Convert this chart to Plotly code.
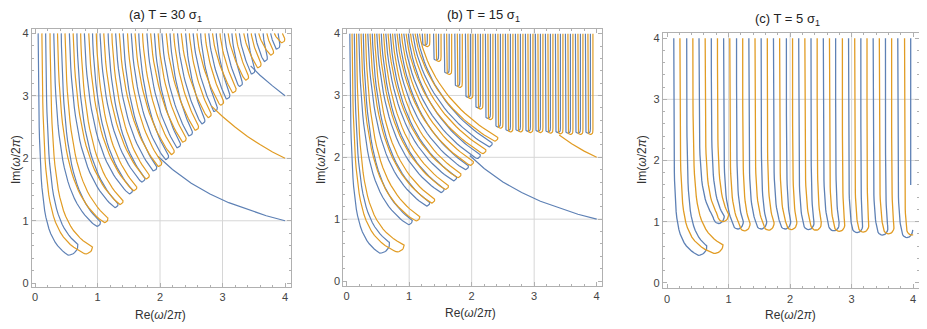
import numpy as np
import plotly.graph_objects as go

BLUE = "#5E81B5"
ORANGE = "#E19C24"
FRAME = "#b0b0b0"
GRID = "#d6d6d6"
FONT = "Liberation Sans, Arial, sans-serif"

TITLES = ["(a) T = 30 σ<sub>1</sub>", "(b) T = 15 σ<sub>1</sub>", "(c) T = 5 σ<sub>1</sub>"]

# ---------------- panel (a): hairpin trajectories ----------------
# x where each arm leaves the top edge (Im = 4), alternating blue / orange
A_TOP = [0.05, 0.11, 0.17, 0.24, 0.30, 0.36, 0.42, 0.48, 0.55, 0.61,
         0.67, 0.73, 0.79, 0.86, 0.92, 0.98, 1.04, 1.10, 1.17, 1.23,
         1.29, 1.35, 1.41, 1.48, 1.54, 1.60, 1.66, 1.72, 1.79, 1.85,
         1.91, 1.97, 2.03, 2.10, 2.16, 2.22, 2.28, 2.34, 2.41, 2.47,
         2.53, 2.59, 2.65, 2.72, 2.78, 2.84, 2.90, 2.96, 3.03, 3.09,
         3.15, 3.21, 3.27, 3.34, 3.40, 3.46, 3.52, 3.58, 3.65, 3.71,
         3.77, 3.83, 3.89, 3.96]
# tip (right-most point) and bottom of each loop
B_TIP_X = [0.69, 1.05, 1.33, 1.56, 1.76, 1.95, 2.14, 2.33, 2.52, 2.72, 2.92, 3.12, 3.32, 3.52, 3.72, 3.92]
B_TIP_Y = [0.62, 0.98, 1.27, 1.49, 1.68, 1.86, 2.04, 2.23, 2.42, 2.61, 2.81, 3.01, 3.21, 3.41, 3.61, 3.81]
B_BOT_X = [0.53, 0.98, 1.27, 1.50, 1.70, 1.89, 2.08, 2.27, 2.46, 2.66, 2.86, 3.06, 3.26, 3.46, 3.66, 3.86]
B_BOT_Y = [0.45, 0.91, 1.21, 1.43, 1.62, 1.80, 1.98, 2.17, 2.36, 2.55, 2.75, 2.95, 3.15, 3.35, 3.55, 3.75]
O_TIP_X = [0.92, 1.17, 1.41, 1.63, 1.83, 2.03, 2.23, 2.42, 2.62, 2.82, 3.02, 3.22, 3.42, 3.62, 3.82, 4.00]
O_TIP_Y = [0.58, 1.04, 1.32, 1.54, 1.73, 1.93, 2.12, 2.32, 2.51, 2.71, 2.91, 3.11, 3.31, 3.51, 3.71, 3.91]
O_BOT_X = [0.80, 1.10, 1.35, 1.57, 1.77, 1.97, 2.17, 2.36, 2.56, 2.76, 2.96, 3.16, 3.36, 3.56, 3.76, 3.94]
O_BOT_Y = [0.47, 0.97, 1.26, 1.48, 1.67, 1.87, 2.06, 2.26, 2.45, 2.65, 2.85, 3.05, 3.25, 3.45, 3.65, 3.85]

# long branches leaving the fan
A_TAIL1_X = [1.97, 2.2, 2.5, 2.8, 3.1, 3.4, 3.7, 4.0]
A_TAIL1_Y = [2.03, 1.82, 1.60, 1.43, 1.29, 1.18, 1.08, 1.0]
A_TAIL2_X = [2.82, 3.0, 3.2, 3.4, 3.6, 3.8, 4.0]
A_TAIL2_Y = [2.84, 2.67, 2.50, 2.35, 2.22, 2.10, 2.0]
A_TAIL3_X = [3.45, 3.6, 3.8, 4.0]
A_TAIL3_Y = [3.48, 3.33, 3.16, 3.0]

# ---------------- panel (b) ----------------
B_TOP = [0.05, 0.086, 0.122, 0.158, 0.194, 0.23, 0.266, 0.302, 0.338, 0.374,
         0.41, 0.446, 0.482, 0.518, 0.554, 0.59, 0.626, 0.662, 0.698, 0.734,
         0.77, 0.806, 0.842, 0.878, 0.914, 0.95, 0.986, 1.022, 1.058, 1.094,
         1.13, 1.166]
# bottoms of the narrow U turns (notch edge, then plateau)
B_U_X = [1.27, 1.45, 1.62, 1.79, 1.96, 2.12, 2.28, 2.44, 2.60, 2.76, 2.92, 3.08, 3.24, 3.40, 3.56, 3.72, 3.88]
B_U_Y = [3.81, 3.57, 3.36, 3.15, 2.97, 2.80, 2.63, 2.49, 2.43, 2.43, 2.42, 2.42, 2.41, 2.40, 2.39, 2.39, 2.39]
B_TAIL1_X = A_TAIL1_X
B_TAIL1_Y = A_TAIL1_Y
B_TAIL2_X = [3.40, 3.6, 3.8, 4.0]
B_TAIL2_Y = [2.36, 2.22, 2.10, 2.0]

# ---------------- panel (c) ----------------
C_TOP = [0.11, 0.21, 0.32, 0.42, 0.52, 0.62, 0.72, 0.82, 0.92, 1.02,
         1.13, 1.23, 1.33, 1.43, 1.53, 1.63, 1.73, 1.83, 1.94, 2.04,
         2.14, 2.24, 2.34, 2.44, 2.54, 2.64, 2.74, 2.85, 2.95, 3.05,
         3.15, 3.25, 3.35, 3.45, 3.55, 3.65, 3.75, 3.86, 3.96, 4.06, 4.16]
C_LOOP_B = dict(bot=(0.51, 0.45), tip=(0.65, 0.60))
C_LOOP_O = dict(bot=(0.76, 0.48), tip=(0.91, 0.62))
CB_U_X = [0.84, 1.15, 1.53, 1.92, 2.30, 2.71, 3.09, 3.50, 3.90]
CB_U_Y = [0.97, 0.88, 0.88, 0.88, 0.87, 0.85, 0.82, 0.78, 0.74]
CO_U_X = [0.91, 1.26, 1.65, 2.02, 2.42, 2.80, 3.19, 3.60, 3.98]
CO_U_Y = [1.00, 0.85, 0.86, 0.87, 0.86, 0.84, 0.83, 0.80, 0.78]
C_STUB_X = [3.96, 3.96]
C_STUB_Y = [4.0, 1.6]


def arm(x_top, x_end, y_end, p, n=30):
    """Arm of a trajectory from its lower end up to Im = 4 (ordered bottom -> top)."""
    u = np.linspace(0, 1, n) ** 2
    ys = y_end + (4.0 - y_end) * u
    s = np.clip((4.0 / ys - 1) / (4.0 / y_end - 1), 0, 1) ** p
    return x_top + (x_end - x_top) * s, ys


def hairpin(x_out, x_in, bot, tip, p):
    ox, oy = arm(x_out, bot[0], bot[1], p)
    phi = np.linspace(-np.pi / 2, 0, 10)
    cx = bot[0] + (tip[0] - bot[0]) * np.cos(phi)
    cy = tip[1] + (tip[1] - bot[1]) * np.sin(phi)
    ix, iy = arm(x_in, tip[0], tip[1], p)
    return (np.concatenate([ox[::-1], cx, ix]), np.concatenate([oy[::-1], cy, iy]))


def u_turn(xl, xr, xb, yb, w, h, p):
    lx, ly = arm(xl, xb - w, yb + h, p)
    t = np.linspace(0, np.pi, 15)
    bx = xb - w * np.cos(t)
    by = yb + h - h * np.sin(t)
    rx, ry = arm(xr, xb + w, yb + h, p)
    return (np.concatenate([lx[::-1], bx, rx]), np.concatenate([ly[::-1], by, ry]))


class Pen:
    def __init__(self):
        self.x, self.y = [], []

    def add(self, xs, ys):
        for a, b in zip(xs, ys):
            if a > 4.005:
                if self.x and self.x[-1] is not None:
                    self.x.append(None)
                    self.y.append(None)
                continue
            self.x.append(float(a))
            self.y.append(float(b))
        self.x.append(None)
        self.y.append(None)


pens = {(k, c): Pen() for k in range(3) for c in (BLUE, ORANGE)}

# (a)
for g in range(16):
    pens[(0, BLUE)].add(*hairpin(A_TOP[4 * g], A_TOP[4 * g + 2],
                                 (B_BOT_X[g], B_BOT_Y[g]), (B_TIP_X[g], B_TIP_Y[g]), 1.3))
    pens[(0, ORANGE)].add(*hairpin(A_TOP[4 * g + 1], A_TOP[4 * g + 3],
                                   (O_BOT_X[g], O_BOT_Y[g]), (O_TIP_X[g], O_TIP_Y[g]), 1.3))
pens[(0, BLUE)].add(A_TAIL1_X, A_TAIL1_Y)
pens[(0, ORANGE)].add(A_TAIL2_X, A_TAIL2_Y)
pens[(0, BLUE)].add(A_TAIL3_X, A_TAIL3_Y)

# (b)
for g in range(8):
    pens[(1, BLUE)].add(*hairpin(B_TOP[4 * g], B_TOP[4 * g + 2],
                                 (B_BOT_X[g], B_BOT_Y[g]), (B_TIP_X[g], B_TIP_Y[g]), 1.3))
    pens[(1, ORANGE)].add(*hairpin(B_TOP[4 * g + 1], B_TOP[4 * g + 3],
                                   (O_BOT_X[g], O_BOT_Y[g]), (O_TIP_X[g], O_TIP_Y[g]), 1.3))
for xc, yb in zip(B_U_X, B_U_Y):
    pens[(1, BLUE)].add(*u_turn(xc - 0.06, xc + 0.02, xc - 0.02, yb, 0.04, 0.05, 1.0))
    pens[(1, ORANGE)].add(*u_turn(xc - 0.02, xc + 0.06, xc + 0.02, yb - 0.02, 0.04, 0.05, 1.0))
pens[(1, BLUE)].add(B_TAIL1_X, B_TAIL1_Y)
pens[(1, ORANGE)].add(B_TAIL2_X, B_TAIL2_Y)

# (c)
pens[(2, BLUE)].add(*hairpin(C_TOP[0], C_TOP[2], C_LOOP_B["bot"], C_LOOP_B["tip"], 2.0))
pens[(2, ORANGE)].add(*hairpin(C_TOP[1], C_TOP[3], C_LOOP_O["bot"], C_LOOP_O["tip"], 2.0))
for i in range(9):
    pens[(2, BLUE)].add(*u_turn(C_TOP[4 + 4 * i], C_TOP[6 + 4 * i] if i < 8 else 4.3,
                                CB_U_X[i], CB_U_Y[i], 0.09, 0.12, 2.5))
    pens[(2, ORANGE)].add(*u_turn(C_TOP[5 + 4 * i], C_TOP[7 + 4 * i],
                                  CO_U_X[i], CO_U_Y[i], 0.09, 0.12, 2.5))
pens[(2, BLUE)].add(C_STUB_X, C_STUB_Y)

fig = go.Figure()
for (k, col), pen in pens.items():
    fig.add_trace(go.Scatter(
        x=pen.x, y=pen.y, mode="lines", line=dict(color=col, width=1.3 if k == 2 else 1.2),
        xaxis="x" if k == 0 else f"x{k + 1}", yaxis="y" if k == 0 else f"y{k + 1}",
        hoverinfo="skip", showlegend=False,
    ))

# the page body has an 8 px default margin, so window pixels are shifted by OFF
OFF = 8
W, H = 927 - OFF, 329 - OFF
# plot boxes in window pixels (left, right, top, bottom) and data ranges
BOXES = [(31.7, 291.0, 29.0, 287.0), (343.3, 602.3, 29.3, 285.7), (662.7, 918.7, 33.3, 288.3)]
XR = [[-0.053, 4.096], [-0.054, 4.09], [-0.07, 4.09]]
YR = [[-0.06, 4.07], [-0.076, 4.07], [-0.09, 4.08]]


def px(x):
    return (x - OFF) / W


def py(y):
    return 1 - (y - OFF) / H


layout = dict(width=W, height=H, margin=dict(l=0, r=0, t=0, b=0, autoexpand=False),
              paper_bgcolor="white", plot_bgcolor="white",
              font=dict(family=FONT, size=11, color="#444444"))
axis_common = dict(showgrid=False, zeroline=False, showline=True, linecolor=FRAME, linewidth=1,
                   mirror="allticks", ticks="inside", ticklen=4, tickwidth=1, tickcolor=FRAME,
                   tickvals=[0, 1, 2, 3, 4], tickfont=dict(size=11, color="#444444"),
                   minor=dict(ticks="inside", ticklen=2, tickcolor=FRAME, dtick=0.2, tick0=0,
                              showgrid=False))
shapes = []
for k, (l, r, t, b) in enumerate(BOXES):
    xa = "xaxis" if k == 0 else f"xaxis{k + 1}"
    ya = "yaxis" if k == 0 else f"yaxis{k + 1}"
    xs = "x" if k == 0 else f"x{k + 1}"
    ysn = "y" if k == 0 else f"y{k + 1}"
    layout[xa] = dict(axis_common, domain=[px(l), px(r)], range=XR[k], anchor=ysn)
    layout[ya] = dict(axis_common, domain=[py(b), py(t)], range=YR[k], anchor=xs)
    for v in (1, 2, 3):
        shapes.append(dict(type="line", xref=xs, yref="paper", x0=v, x1=v,
                           y0=py(b), y1=py(t), line=dict(color=GRID, width=1), layer="below"))
        shapes.append(dict(type="line", xref="paper", yref=ysn, y0=v, y1=v,
                           x0=px(l), x1=px(r), line=dict(color=GRID, width=1), layer="below"))
layout["shapes"] = shapes

ann = []
TITLE_POS = [(165, 15), (483, 15), (787, 19)]
XLAB_POS = [(160, 315), (470, 313), (790, 315)]
YLAB_POS = [(16, 160), (321, 160), (642, 160)]
for k in range(3):
    ann.append(dict(text=TITLES[k], x=px(TITLE_POS[k][0]), y=py(TITLE_POS[k][1]),
                    xref="paper", yref="paper", showarrow=False, xanchor="center", yanchor="middle",
                    font=dict(size=13, color="#222222")))
    ann.append(dict(text="Re(<i>ω</i>/2<i>π</i>)", x=px(XLAB_POS[k][0]), y=py(XLAB_POS[k][1]),
                    xref="paper", yref="paper", showarrow=False, xanchor="center", yanchor="middle",
                    font=dict(size=12, color="#333333")))
    ann.append(dict(text="Im(<i>ω</i>/2<i>π</i>)", x=px(YLAB_POS[k][0]), y=py(YLAB_POS[k][1]),
                    xref="paper", yref="paper", showarrow=False, textangle=-90,
                    xanchor="center", yanchor="middle",
                    font=dict(size=12, color="#333333")))
layout["annotations"] = ann

fig.update_layout(**layout)
fig.write_html("out.html")
